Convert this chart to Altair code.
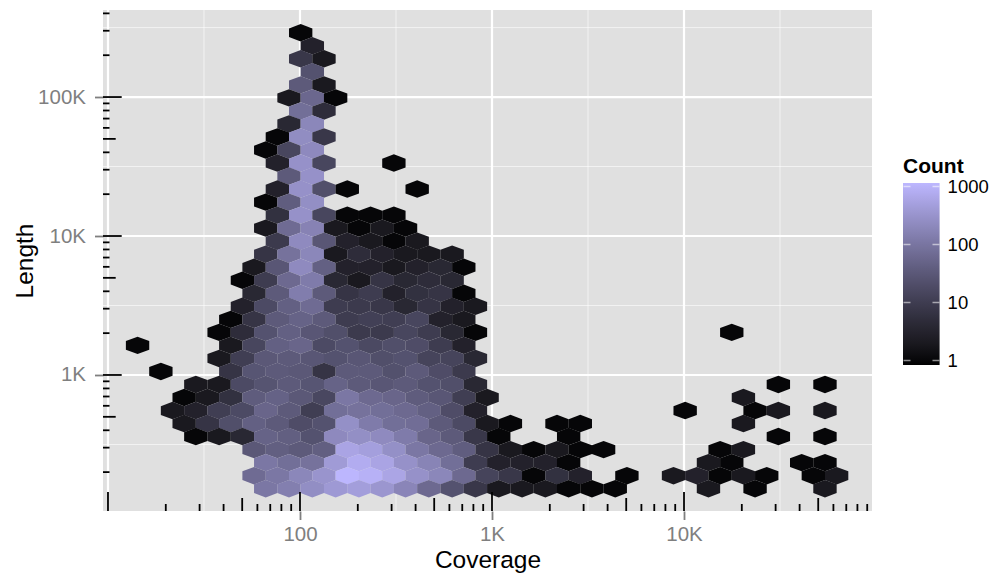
import altair as alt
import pandas as pd

# Hexagon bins: row -> (half-column, count) pairs
ROWS = [
    [(0,1)],
    [(1,3)],
    [(0,8),(2,2)],
    [(1,25)],
    [(0,35),(2,2)],
    [(-1,2),(1,60),(3,1)],
    [(0,80),(2,5)],
    [(-1,4),(1,200)],
    [(-2,1),(0,250),(2,8)],
    [(-3,1),(-1,15),(1,220)],
    [(-2,3),(0,300),(2,15),(8,1)],
    [(-1,35),(1,300)],
    [(-2,3),(0,300),(2,22),(4,1),(10,1)],
    [(-3,1),(-1,40),(1,270)],
    [(-2,6),(0,300),(2,15),(4,1),(6,1),(8,1)],
    [(-3,2),(-1,70),(1,170),(3,2),(5,1),(7,2),(9,1)],
    [(-2,9),(0,230),(2,30),(4,3),(6,2),(8,1),(10,2)],
    [(-3,7),(-1,90),(1,200),(3,2),(5,5),(7,3),(9,2),(11,2),(13,2)],
    [(-4,2),(-2,30),(0,230),(2,45),(4,3),(6,3),(8,2),(10,3),(12,4),(14,1)],
    [(-5,1),(-3,10),(-1,65),(1,130),(3,4),(5,2),(7,7),(9,4),(11,5),(13,4)],
    [(-4,4),(-2,35),(0,140),(2,35),(4,7),(6,10),(8,3),(10,6),(12,7),(14,1)],
    [(-5,3),(-3,18),(-1,45),(1,70),(3,10),(5,9),(7,8),(9,4),(11,7),(13,3),(15,2)],
    [(-6,1),(-4,7),(-2,35),(0,50),(2,35),(4,10),(6,12),(8,11),(10,15),(12,3),(14,2)],
    [(-7,1),(-5,5),(-3,25),(-1,45),(1,30),(3,22),(5,9),(7,9),(9,15),(11,10),(13,4),(15,1),(37,1)],
    [(-14,1),(-6,2),(-4,15),(-2,45),(0,55),(2,18),(4,25),(6,17),(8,22),(10,20),(12,10),(14,3)],
    [(-7,2),(-5,11),(-3,32),(-1,35),(1,30),(3,25),(5,30),(7,22),(9,25),(11,14),(13,14),(15,4)],
    [(-12,1),(-6,7),(-4,28),(-2,35),(0,32),(2,7),(4,35),(6,35),(8,24),(10,35),(12,20),(14,9)],
    [(-9,2),(-7,2),(-5,18),(-3,27),(-1,35),(1,28),(3,50),(5,35),(7,30),(9,35),(11,25),(13,22),(15,4),(41,1),(45,1)],
    [(-10,1),(-8,2),(-6,6),(-4,38),(-2,48),(0,32),(2,16),(4,110),(6,65),(8,55),(10,38),(12,30),(14,11),(16,2),(38,2)],
    [(-11,2),(-9,3),(-7,11),(-5,18),(-3,55),(-1,35),(1,11),(3,80),(5,90),(7,80),(9,65),(11,45),(13,20),(15,3),(33,1),(39,1),(41,2),(45,2)],
    [(-10,2),(-8,7),(-6,22),(-4,45),(-2,35),(0,20),(2,25),(4,280),(6,130),(8,80),(10,75),(12,35),(14,18),(16,2),(18,1),(22,1),(24,1),(38,2)],
    [(-9,1),(-7,2),(-5,4),(-3,50),(-1,42),(1,25),(3,220),(5,270),(7,230),(9,130),(11,55),(13,35),(15,8),(17,1),(23,1),(41,1),(45,1)],
    [(-4,32),(-2,42),(0,35),(2,42),(4,600),(6,500),(8,280),(10,110),(12,65),(14,40),(16,7),(18,2),(20,1),(22,2),(24,1),(26,1),(36,1),(38,2)],
    [(-3,110),(-1,80),(1,90),(3,420),(5,800),(7,600),(9,300),(11,180),(13,80),(15,10),(17,3),(19,3),(21,3),(23,1),(35,2),(37,1),(43,1),(45,1)],
    [(-4,70),(-2,110),(0,200),(2,330),(4,1150),(6,950),(8,620),(10,300),(12,200),(14,65),(16,14),(18,8),(20,1),(22,6),(24,3),(28,1),(32,2),(34,3),(36,1),(38,2),(40,1),(44,1),(46,2)],
    [(-3,110),(-1,150),(1,260),(3,400),(5,480),(7,350),(9,190),(11,65),(13,25),(15,8),(17,2),(19,2),(21,2),(23,1),(25,1),(27,1),(35,2),(39,1),(45,2)],
]

# Hexbin lattice in log10 data units
LOG_X0, LOG_DX = 2.0036, 0.06068   # half-column step
LOG_Y0, LOG_DY = 5.4626, 0.09374   # row step

X_TICKS = [100, 1000, 10000]
Y_TICKS = [1000, 10000, 100000]
X_MAJOR = [10, 100, 1000, 10000]
X_MINOR = [31.62, 316.2, 3162, 31620]
Y_MAJOR = [1000, 10000, 100000]
Y_MINOR = [316.2, 3162, 31620, 316200]
X_MID = [50, 500, 5000, 50000]
Y_MID = [500, 5000, 50000]
X_SHORT = [m * d for d in (10, 100, 1000, 10000) for m in (2, 3, 4, 6, 7, 8, 9)]
Y_SHORT = [m * d for d in (100, 1000, 10000) for m in (2, 3, 4, 6, 7, 8, 9)] + [200000, 300000, 400000]
LEGEND_TICKS = [1, 10, 100, 1000]

hex_rows = []
for r, row in enumerate(ROWS):
    for c, n in row:
        hex_rows.append({
            "Coverage": 10 ** (LOG_X0 + c * LOG_DX),
            "Length": 10 ** (LOG_Y0 - r * LOG_DY),
            "Count": n,
        })
hexes = pd.DataFrame(hex_rows)

FONT = "Liberation Sans"
W, H = 769, 501
xs = alt.Scale(type="log", domain=[9.42, 95300], nice=False)
ys = alt.Scale(type="log", domain=[105, 423000], nice=False)
X = lambda **kw: alt.X("v:Q", scale=xs, axis=None, **kw)
Y = lambda **kw: alt.Y("v:Q", scale=ys, axis=None, **kw)
frame = lambda vals: pd.DataFrame({"v": vals})

def vrule(vals, width, op=1):
    return alt.Chart(frame(vals)).mark_rule(color="white", strokeWidth=width, opacity=op).encode(x=X())

def hrule(vals, width, op=1):
    return alt.Chart(frame(vals)).mark_rule(color="white", strokeWidth=width, opacity=op).encode(y=Y())

def xtick(vals, length):
    return alt.Chart(frame(vals)).mark_rule(color="black", strokeWidth=1.8).encode(
        x=X(), y=alt.value(H), y2=alt.value(H - length))

def ytick(vals, length):
    return alt.Chart(frame(vals)).mark_rule(color="black", strokeWidth=1.8).encode(
        y=Y(), x=alt.value(0), x2=alt.value(length))

HEX = "M0,-0.746L1,-0.373L1,0.373L0,0.746L-1,0.373L-1,-0.373Z"

x_axis = alt.Axis(
    title="Coverage", values=X_TICKS, grid=False, domain=False,
    labelExpr="datum.value == 100 ? '100' : datum.value == 1000 ? '1K' : '10K'",
    tickColor="#7f7f7f", tickWidth=1.8, tickSize=8.5, labelColor="#7f7f7f",
    labelFont=FONT, labelFontSize=20.5, labelPadding=5, labelFlush=False,
    titleFont=FONT, titleFontSize=24.5, titleFontWeight="normal", titleColor="black",
    titleX=384.5, titleY=56, titleBaseline="alphabetic")

color_scale = alt.Scale(type="log", domain=[0.85, 1180], range=["#000000", "#BDB7FF"], interpolate="lab")

hex_layer = alt.Chart(hexes).mark_point(
    shape=HEX, filled=True, opacity=1, size=546, strokeWidth=0
).encode(
    x=alt.X("Coverage:Q", scale=xs, axis=x_axis),
    y=alt.Y("Length:Q", scale=ys, axis=alt.Axis(
        title="Length", values=Y_TICKS, grid=False, domain=False,
        labelExpr="datum.value == 1000 ? '1K' : datum.value == 10000 ? '10K' : '100K'",
        tickColor="#7f7f7f", tickWidth=1.8, tickSize=8.5, labelColor="#7f7f7f",
        labelFont=FONT, labelFontSize=20.5, labelPadding=9,
        titleFont=FONT, titleFontSize=24.5, titleFontWeight="normal", titleColor="black",
        titleX=-71, titleY=250.5, titleBaseline="alphabetic")),
    color=alt.Color("Count:Q", scale=color_scale,
        legend=alt.Legend(
            title="Count", orient="none", legendX=800, legendY=146,
            values=LEGEND_TICKS, gradientLength=182, gradientThickness=36.6,
            labelFont=FONT, labelFontSize=18.5, labelColor="black", labelOffset=8, labelOverlap=False,
            titleFont=FONT, titleFontSize=21, titleFontWeight="bold", titleColor="black",
            titlePadding=6, format="d")),
)

legend_ticks = alt.Chart(frame(LEGEND_TICKS)).mark_point(opacity=0).encode(
    x=alt.value(0),
    y=alt.Y("v:Q", scale=alt.Scale(type="log", domain=[1, 1000], range=[350, 175.7], nice=False),
            axis=alt.Axis(orient="right", offset=31, title=None, grid=False, domain=False,
                          labels=False, tickColor="white", tickOpacity=0.55, tickWidth=1.5,
                          tickSize=36, tickDash=[7, 22, 7], values=LEGEND_TICKS, zindex=1)),
)

chart = alt.layer(
    vrule(X_MINOR, 1, 0.6), hrule(Y_MINOR, 1, 0.6), vrule(X_MAJOR, 2.2), hrule(Y_MAJOR, 2.2),
    hex_layer,
    xtick(X_SHORT, 7), xtick(X_MID, 13), xtick(X_MAJOR, 19),
    ytick(Y_SHORT, 6.5), ytick(Y_MID, 12.7), ytick(Y_MAJOR, 18.7),
    legend_ticks,
).resolve_scale(y="independent").resolve_axis(x="independent").properties(
    width=W, height=H,
    autosize=alt.AutoSizeParams(type="none"),
    padding={"left": 95, "top": 2, "right": 117, "bottom": 62},
    background="white",
).configure_view(fill="#E0E0E0", stroke=None)

chart.save("out.html", embed_options={"renderer": "svg", "actions": False})
